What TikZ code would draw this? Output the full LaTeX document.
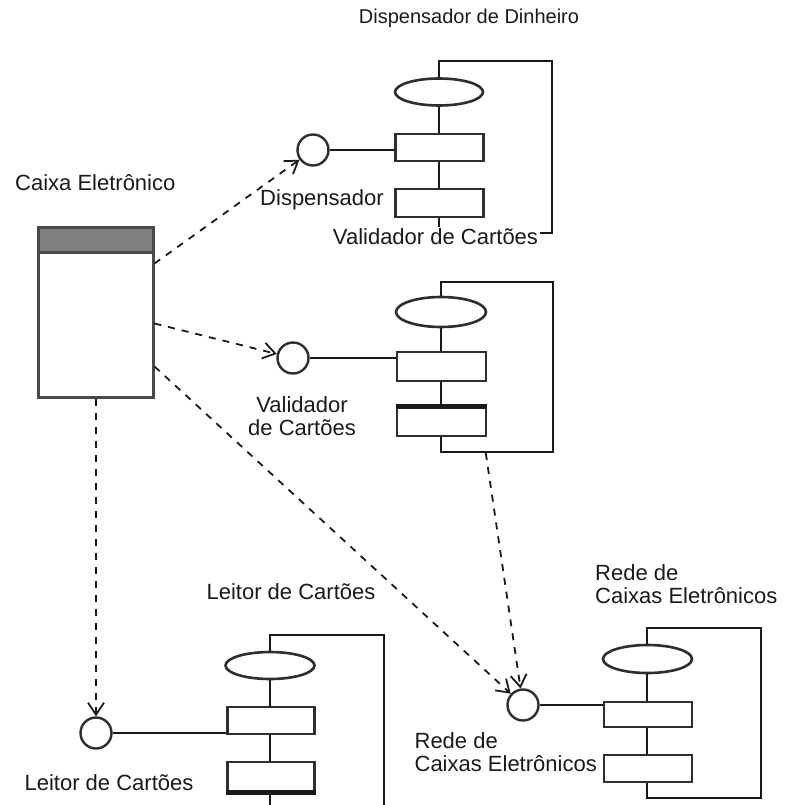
\documentclass[tikz,border=0pt]{standalone}
\usepackage{fontspec}
\setmainfont{Liberation Sans}
\usetikzlibrary{arrows.meta,shapes.geometric,calc}
\definecolor{ink}{HTML}{1A1A1A}
\definecolor{shapeline}{HTML}{2E2E2E}
\definecolor{boxline}{HTML}{4A4A4A}
\definecolor{boxhead}{HTML}{808080}

\begin{document}
\begin{tikzpicture}[x=1pt,y=-1pt,
  lbl/.style={font=\fontsize{22}{23}\selectfont, inner sep=1pt, text=ink},
  ttl/.style={font=\fontsize{20}{22}\selectfont, inner sep=1pt, text=ink},
  compframe/.style={rectangle, draw=ink, line width=2.4pt, inner sep=0pt},
  capshape/.style={ellipse, draw=shapeline, line width=2.6pt, fill=white,
    minimum width=88pt, minimum height=27pt, inner sep=0pt},
  portbox/.style={rectangle, draw=shapeline, line width=2.8pt, fill=white,
    minimum width=88pt, minimum height=27pt, inner sep=0pt},
  ifc/.style={circle, draw=shapeline, line width=2.4pt, fill=white,
    minimum size=31pt, inner sep=0pt},
  wire/.style={draw=ink, line width=2.2pt},
  dep/.style={draw=ink, line width=1.8pt, dash pattern=on 7pt off 7pt,
    -{Straight Barb[length=12pt,width=16pt,line width=1.8pt]}}]

\useasboundingbox (0,0) rectangle (784,805);

% ---------- Caixa Eletronico ----------
\node[lbl, anchor=west] (caixattl) at (14,183) {Caixa Eletrônico};
\node[rectangle, draw=boxline, line width=3pt, fill=white,
  minimum width=115pt, minimum height=170pt, inner sep=0pt] (caixa) at (95.5,312) {};
\node[rectangle, draw=boxline, line width=3pt, fill=boxhead,
  minimum width=115pt, minimum height=25pt, inner sep=0pt] (caixahead) at (95.5,239.5) {};

% ---------- Dispensador de Dinheiro ----------
\node[ttl] (dispttl) at (469,18) {Dispensador de Dinheiro};
\node[compframe, minimum width=113pt, minimum height=172pt] (comp1) at (495.5,147) {};
\node[capshape] (de) at (439,92) {};
\node[portbox] (dr1) at (439.5,147.5) {};
\node[portbox, minimum height=28pt] (dr2) at (439.5,203) {};
\node[ifc] (c1) at (313,150) {};
\draw[wire] (c1.east) -- (c1 -| dr1.west);
\node[lbl] (c1lbl) at (322,200) {Dispensador};
\node[lbl, fill=white, inner sep=2pt] (comp1lbl) at (435.5,237) {Validador de Cartões};

% ---------- Validador de Cartoes ----------
\node[compframe, minimum width=112pt, minimum height=170pt] (comp2) at (497,367) {};
\node[capshape, minimum width=90pt, minimum height=30pt] (ve) at (441,312) {};
\node[portbox, minimum width=89pt, minimum height=29pt] (vr1) at (441.5,366.5) {};
\node[portbox, minimum width=89pt, minimum height=28pt] (vr2) at (441.5,422) {};
\draw[draw=ink, line width=4.5pt] (vr2.north west) -- (vr2.north east);
\node[ifc] (c2) at (293,358) {};
\draw[wire] (c2.east) -- (c2 -| vr1.west);
\node[lbl, align=center] (c2lbl) at (302,416) {Validador\\de Cartões};

% ---------- Leitor de Cartoes ----------
\node[lbl] (leitorttl) at (291,592) {Leitor de Cartões};
\node[compframe, minimum width=114pt, minimum height=200pt] (comp3) at (327,735) {};
\node[capshape, minimum width=89pt] (le) at (270,665.5) {};
\node[portbox, minimum width=87pt] (lr1) at (271,720.5) {};
\node[portbox, minimum width=87pt, minimum height=29pt] (lr2) at (271,776.5) {};
\draw[draw=ink, line width=4.5pt] (lr2.south west) -- (lr2.south east);
\node[ifc] (c3) at (96,733) {};
\draw[wire] (c3.east) -- (c3 -| lr1.west);
\node[lbl] (c3lbl) at (109,783) {Leitor de Cartões};

% ---------- Rede de Caixas Eletronicos ----------
\node[lbl, align=left, anchor=north west] (redettl) at (594,563) {Rede de\\Caixas Eletrônicos};
\node[compframe, minimum width=114pt, minimum height=170pt] (comp4) at (704,713) {};
\node[capshape, minimum width=89pt, minimum height=28pt] (re) at (647.5,659) {};
\node[portbox, minimum height=25pt] (rr1) at (648,714.5) {};
\node[portbox] (rr2) at (648,768.5) {};
\node[ifc] (c4) at (523,705) {};
\draw[wire] (c4.east) -- (c4 -| rr1.west);
\node[lbl, align=left, anchor=north east] (c4lbl) at (598,731) {Rede de\\Caixas Eletrônicos};

% ---------- dependencies ----------
\coordinate (k1) at ($(caixa.north east)+(0,38)$);
\coordinate (k2) at ($(caixa.north east)+(0,98)$);
\coordinate (k3) at ($(caixa.north east)+(0,141)$);
\coordinate (k4) at (caixa.south -| c3);
\coordinate (v1) at ($(comp2.south west)+(46,0)$);
\draw[dep] (k1) -- (c1);
\draw[dep] (k2) -- (c2);
\draw[dep] (k3) -- (c4);
\draw[dep] (k4) -- (c3);
\draw[dep] (v1) -- (c4);
\end{tikzpicture}
\end{document}
